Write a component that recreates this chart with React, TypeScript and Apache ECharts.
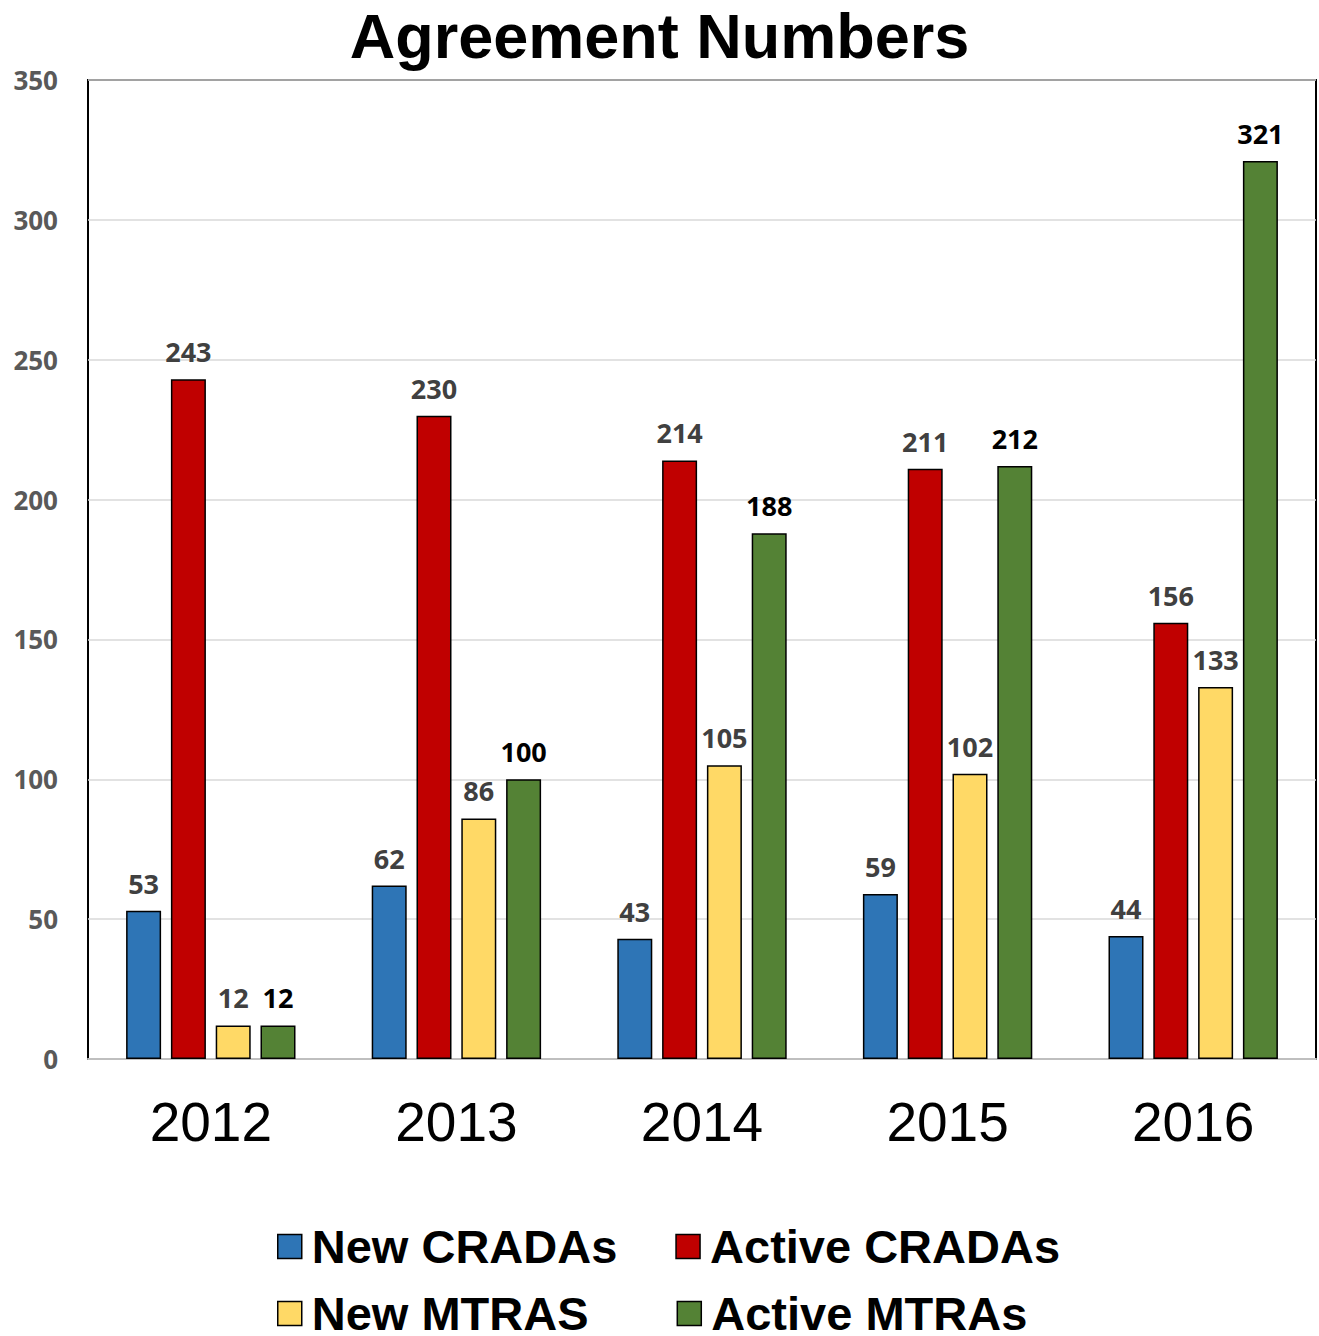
import React, { useEffect, useRef } from "react";
import * as echarts from "echarts";

const years = ["2012", "2013", "2014", "2015", "2016"];
const newCradas = [53, 62, 43, 59, 44];
const activeCradas = [243, 230, 214, 211, 156];
const newMtras = [12, 86, 105, 102, 133];
const activeMtras = [12, 100, 188, 212, 321];

const labelFont = "'Open Sans', 'Noto Sans', sans-serif";
const arial = "'Liberation Sans', Arial, sans-serif";

function mkSeries(name: string, data: number[], color: string, labelColor: string) {
  return {
    name,
    type: "bar",
    data,
    barWidth: 35,
    barGap: "28%",
    itemStyle: { color, borderColor: "#000", borderWidth: 1.5 },
    label: {
      show: true,
      position: "top",
      distance: 14,
      color: labelColor,
      fontFamily: labelFont,
      fontWeight: "bold",
      fontSize: 27,
    },
  };
}

export default function App() {
  const ref = useRef<HTMLDivElement>(null);
  useEffect(() => {
    if (!ref.current) return;
    const chart = echarts.init(ref.current, null, { renderer: "svg" });
    const legendText = {
      fontFamily: arial,
      fontWeight: "bold",
      fontSize: 47,
      color: "#000",
      padding: [0, 0, 0, 5],
    };
    chart.setOption({
      animation: false,
      backgroundColor: "#fff",
      title: {
        text: "Agreement Numbers",
        left: "center",
        top: -1,
        textStyle: { fontFamily: arial, fontWeight: "bold", fontSize: 63, color: "#000" },
      },
      legend: [
        {
          data: ["New CRADAs", "Active CRADAs"],
          left: 272,
          top: 1218,
          itemWidth: 24,
          itemHeight: 24,
          itemGap: 58,
          textStyle: legendText,
          icon: "rect",
          itemStyle: { borderColor: "#000", borderWidth: 1.5 },
        },
        {
          data: ["New MTRAS", "Active MTRAs"],
          left: 272,
          top: 1285,
          itemWidth: 24,
          itemHeight: 24,
          itemGap: 88,
          textStyle: legendText,
          icon: "rect",
          itemStyle: { borderColor: "#000", borderWidth: 1.5 },
        },
      ],
      grid: {
        left: 88,
        right: 3,
        top: 80,
        bottom: 277,
        show: true,
        borderColor: "#000",
        borderWidth: 2,
      },
      xAxis: {
        type: "category",
        data: years,
        axisTick: { show: false },
        axisLine: { show: true, lineStyle: { color: "#bfbfbf", width: 2 } },
        axisLabel: {
          fontFamily: arial,
          fontSize: 55,
          color: "#000",
          margin: 35,
        },
      },
      yAxis: {
        type: "value",
        min: 0,
        max: 350,
        interval: 50,
        axisLine: { show: false },
        axisTick: { show: false },
        splitLine: { lineStyle: { color: "#d9d9d9", width: 1.5 } },
        axisLabel: {
          fontFamily: labelFont,
          fontWeight: "bold",
          fontSize: 26,
          color: "#595959",
          margin: 30,
        },
      },
      series: [
        mkSeries("New CRADAs", newCradas, "#2e75b6", "#404040"),
        mkSeries("Active CRADAs", activeCradas, "#c00000", "#404040"),
        mkSeries("New MTRAS", newMtras, "#ffd966", "#404040"),
        mkSeries("Active MTRAs", activeMtras, "#548235", "#000"),
      ],
    });
    return () => chart.dispose();
  }, []);
  return (
    <div
      ref={ref}
      style={{ position: "absolute", left: 0, top: 0, width: 1319, height: 1336 }}
    />
  );
}
